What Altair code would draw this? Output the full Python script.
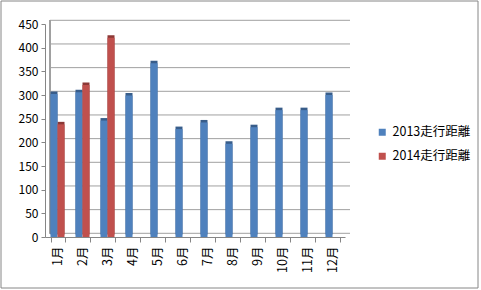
import altair as alt
import pandas as pd

months = ["1月", "2月", "3月", "4月", "5月", "6月", "7月", "8月", "9月", "10月", "11月", "12月"]
series_names = ["2013走行距離", "2014走行距離"]
values_2013 = [302, 306, 246, 299, 367, 228, 242, 197, 232, 268, 268, 300]
values_2014 = [238, 321, 421]
y_ticks = [0, 50, 100, 150, 200, 250, 300, 350, 400, 450]

front_colors = ["#4F81BD", "#C0504D"]
side_colors = ["#385D8A", "#8C3836"]

rows = []
for m, v in zip(months, values_2013):
    rows.append({"month": m, "series": series_names[0], "value": v})
for m, v in zip(months, values_2014):
    rows.append({"month": m, "series": series_names[1], "value": v})
df = pd.DataFrame(rows)
grid_df = pd.DataFrame({"value": y_ticks})

FONT = "Noto Sans CJK JP"

y_scale = alt.Scale(domain=[0, 450], nice=False)
y_axis = alt.Axis(values=y_ticks, labelFontSize=12, labelColor="#000000",
                  labelFont=FONT, tickSize=4, tickColor="#868686",
                  domainColor="#868686", grid=False, labelPadding=3)

x_enc = alt.X("month:N", sort=months, title=None,
              scale=alt.Scale(paddingInner=0.44, paddingOuter=0.22),
              axis=alt.Axis(labelAngle=270, labelFontSize=12.5, labelColor="#000000",
                            labelFont=FONT, tickBand="extent", tickSize=5,
                            tickColor="#868686", domainColor="#868686",
                            labelPadding=4))
y_enc = alt.Y("value:Q", title=None, scale=y_scale, axis=y_axis)
xoff = alt.XOffset("series:N", sort=series_names,
                   scale=alt.Scale(domain=series_names, paddingInner=0, paddingOuter=0))

grid = alt.Chart(grid_df).mark_rule(color="#A0A0A0", strokeWidth=1, yOffset=-3.7).encode(
    y=y_enc, x=alt.value(5), x2=alt.value(305)
)
wall = alt.Chart(grid_df).mark_rule(color="#A0A0A0", strokeWidth=1).encode(
    x=alt.value(5), y=alt.value(-3.7), y2=alt.value(209.3)
)

side = alt.Chart(df).mark_bar(xOffset=4.5, yOffset=-2.5).encode(
    x=x_enc, y=y_enc, xOffset=xoff,
    color=alt.Color("series:N", scale=alt.Scale(domain=series_names, range=side_colors), legend=None)
)
front = alt.Chart(df).mark_bar(xOffset=2).encode(
    x=x_enc, y=y_enc, xOffset=xoff,
    color=alt.Color("front:N", scale=alt.Scale(domain=series_names, range=front_colors),
                    legend=alt.Legend(title=None, orient="none", legendX=331, legendY=102,
                                      symbolType="square", symbolSize=49, symbolStrokeWidth=0,
                                      labelFontSize=12.5, labelFont=FONT, labelColor="#000000",
                                      rowPadding=11, labelOffset=4, padding=0))
).transform_calculate(front="datum.series")

border = alt.Chart(pd.DataFrame({"a": [0]})).mark_rect(fillOpacity=0, stroke="#868686", strokeWidth=1).encode(
    x=alt.value(-44), x2=alt.value(433), y=alt.value(-23), y2=alt.value(264)
)

chart = alt.layer(grid, wall, side, front, border).resolve_scale(color="independent").properties(
    width=300, height=213,
    padding={"left": 45, "top": 24, "right": 136, "bottom": 53},
    autosize=alt.AutoSizeParams(type="none"),
    background="#FFFFFF"
).configure_view(stroke=None)

chart.save("out.html", embed_options={"renderer": "svg", "actions": False})
